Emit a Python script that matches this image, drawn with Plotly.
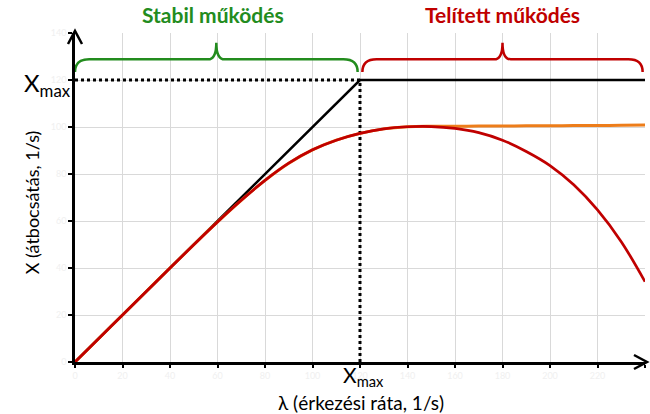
import plotly.graph_objects as go

XMAX = 120

# ideal (black): linear up to Xmax, then flat
ideal_x = [0, XMAX, 240]
ideal_y = [0, XMAX, XMAX]

lam = [0, 10, 20, 30, 40, 50, 60, 70, 80, 90, 100, 110, 120, 130, 140, 150, 160, 170, 180, 190, 200, 210, 220, 230, 240]
orange_y = [0, 10, 20, 30, 40, 49.9, 59.6, 68.8, 77.3, 84.6, 90.3, 94.4, 97.3, 99.2, 100.1,
            100.3, 100.3, 100.4, 100.4, 100.5, 100.5, 100.6, 100.6, 100.7, 100.8]
red_y = [0, 10, 20, 30, 40, 49.9, 59.6, 68.8, 77.3, 84.6, 90.3, 94.4, 97.3, 99.2, 100.1,
         100.2, 99.4, 97.6, 94.4, 89.6, 83.6, 75.4, 64.7, 51.2, 34.2]

xticks = list(range(0, 241, 20))
yticks = list(range(0, 141, 20))

GREEN = "#238c1e"
RED = "#c00000"
FONT = "Lato"

fig = go.Figure()
fig.add_trace(go.Scatter(x=[0, XMAX, XMAX], y=[XMAX, XMAX, 0], mode="lines",
                         line=dict(color="black", width=3, dash="dot")))
fig.add_trace(go.Scatter(x=ideal_x, y=ideal_y, mode="lines",
                         line=dict(color="black", width=2.5)))
fig.add_trace(go.Scatter(x=lam, y=orange_y, mode="lines", line_shape="spline",
                         line=dict(color="#ed7d1a", width=3)))
fig.add_trace(go.Scatter(x=lam, y=red_y, mode="lines", line_shape="spline",
                         line=dict(color=RED, width=2.7)))


def brace(x0, x1, color):
    ye, yh, yt = 123.4, 128.8, 135.9
    xm = (x0 + x1) / 2
    r, rt = 6, 3.5
    p = (f"M {x0},{ye} Q {x0},{yh} {x0 + r},{yh} L {xm - rt},{yh} "
         f"Q {xm},{yh} {xm},{yt} Q {xm},{yh} {xm + rt},{yh} "
         f"L {x1 - r},{yh} Q {x1},{yh} {x1},{ye}")
    return dict(type="path", xref="x", yref="y", path=p,
                line=dict(color=color, width=2.5))


shapes = [brace(0, XMAX - 1, GREEN), brace(XMAX + 1, 239, RED)]
# axis arrow heads
shapes.append(dict(type="path", xref="x domain", yref="y domain", xsizemode="pixel", ysizemode="pixel",
                   xanchor=1, yanchor=0, path="M -11,7 L 2,0 L -11,-7",
                   line=dict(color="black", width=2.5)))
shapes.append(dict(type="path", xref="x domain", yref="y domain", xsizemode="pixel", ysizemode="pixel",
                   xanchor=0, yanchor=1, path="M -7,-11 L 0,2 L 7,-11",
                   line=dict(color="black", width=2.5)))

annotations = [
    dict(text="<b>Stabil működés</b>", x=XMAX / 2 - 2, xref="x", y=1, yref="paper", yanchor="bottom",
         yshift=4, showarrow=False, font=dict(family=FONT, size=21, color=GREEN)),
    dict(text="<b>Telített működés</b>", x=(XMAX + 240) / 2, xref="x", y=1, yref="paper", yanchor="bottom",
         yshift=4, showarrow=False, font=dict(family=FONT, size=21, color=RED)),
    dict(text="X<sub>max</sub>", x=0, xref="paper", xanchor="right", xshift=-2, y=XMAX, yref="y",
         yanchor="middle", yshift=-4, showarrow=False, font=dict(family=FONT, size=24, color="black")),
    dict(text="X<sub>max</sub>", x=XMAX, xref="x", xanchor="center", xshift=3, y=0, yref="paper",
         yanchor="top", yshift=2, showarrow=False, font=dict(family=FONT, size=21, color="black")),
    dict(text="λ (érkezési ráta, 1/s)", x=0.502, xref="paper", y=0, yref="paper", yanchor="top",
         yshift=-27, showarrow=False, font=dict(family=FONT, size=19, color="black")),
    dict(text="X (átbocsátás, 1/s)", x=0, xref="paper", xanchor="center", xshift=-43, y=68, yref="y",
         textangle=-90, showarrow=False, font=dict(family=FONT, size=18, color="black")),
]

fig.update_layout(
    width=650, height=414,
    margin=dict(l=75, r=5, t=33, b=52),
    plot_bgcolor="white", paper_bgcolor="white",
    showlegend=False,
    shapes=shapes,
    annotations=annotations,
    xaxis=dict(range=[0, 240], tickvals=xticks, showgrid=True, gridcolor="#d9d9d9", gridwidth=1,
               showline=True, linecolor="black", linewidth=2.5, ticks="outside", ticklen=3,
               tickwidth=2, tickcolor="black", zeroline=False, automargin=False,
               tickfont=dict(family=FONT, size=9, color="#f0f0f0")),
    yaxis=dict(range=[0, 140], tickvals=yticks, showgrid=True, gridcolor="#d9d9d9", gridwidth=1,
               showline=True, linecolor="black", linewidth=2.5, ticks="outside", ticklen=4,
               tickwidth=2, tickcolor="black", zeroline=False, automargin=False,
               tickfont=dict(family=FONT, size=9, color="#f0f0f0")),
)

# the page body has a default 8px margin; drop it so the figure fills the window
fig.write_html("out.html", config={"displayModeBar": False},
               post_script="document.body.style.margin='0';")
